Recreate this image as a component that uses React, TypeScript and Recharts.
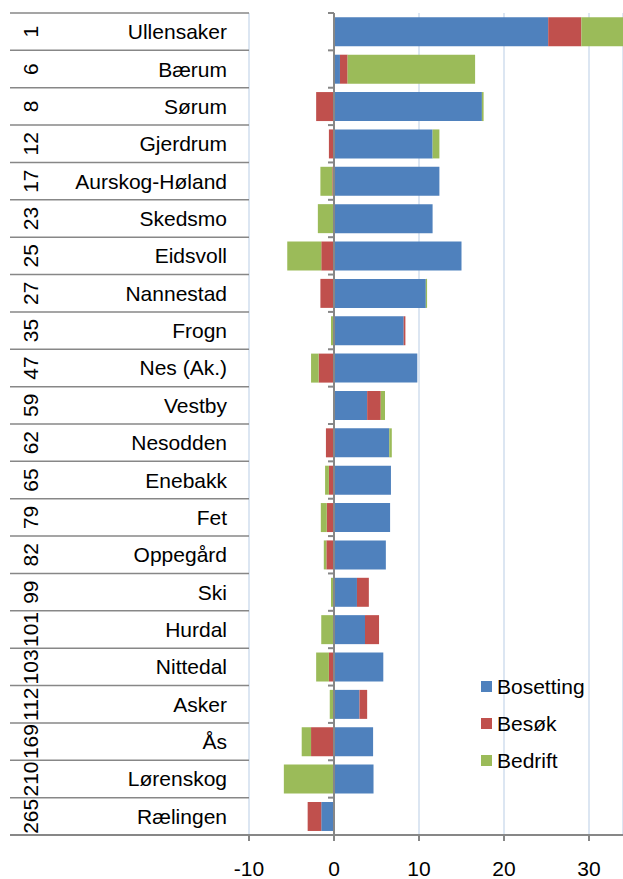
import React from 'react';
import {
  BarChart,
  Bar,
  XAxis,
  YAxis,
  CartesianGrid,
  ReferenceLine
} from 'recharts';

const ranks = ['1', '6', '8', '12', '17', '23', '25', '27', '35', '47', '59', '62', '65', '79', '82', '99', '101', '103', '112', '169', '210', '265'];
const names = ['Ullensaker', 'Bærum', 'Sørum', 'Gjerdrum', 'Aurskog-Høland', 'Skedsmo', 'Eidsvoll', 'Nannestad', 'Frogn', 'Nes (Ak.)', 'Vestby', 'Nesodden', 'Enebakk', 'Fet', 'Oppegård', 'Ski', 'Hurdal', 'Nittedal', 'Asker', 'Ås', 'Lørenskog', 'Rælingen'];
const bosetting = [25.2, 0.7, 17.4, 11.6, 12.4, 11.6, 15.0, 10.8, 8.2, 9.8, 3.9, 6.5, 6.7, 6.6, 6.1, 2.7, 3.65, 5.8, 3.0, 4.6, 4.65, -1.5];
const besok = [3.9, 0.9, -2.1, -0.6, -0.2, 0, -1.5, -1.6, 0.2, -1.8, 1.6, -0.95, -0.6, -0.85, -0.9, 1.4, 1.65, -0.6, 0.9, -2.7, 0, -1.6];
const bedrift = [4.9, 15.0, 0.2, 0.8, -1.4, -1.9, -4.0, 0.15, -0.35, -0.9, 0.5, 0.3, -0.45, -0.7, -0.3, -0.35, -1.5, -1.5, -0.5, -1.1, -5.9, 0];
const xTicks = [-10, 0, 10, 20, 30];

const series = [
  { key: 'bos', name: 'Bosetting', color: '#4F81BD' },
  { key: 'bes', name: 'Besøk', color: '#C0504D' },
  { key: 'bed', name: 'Bedrift', color: '#9BBB59' }
];

const data = names.map((name, i) => ({
  name,
  rank: ranks[i],
  bos: bosetting[i],
  bes: besok[i],
  bed: bedrift[i]
}));

const W = 623;
const H = 879;
const TOP = 13;
const BOTTOM = 44;
const YW = 249;
const rowH = (H - TOP - BOTTOM) / names.length;
const FONT = '"Liberation Sans", Arial, sans-serif';
const LINE = '#878787';

const CategoryTick = (props: any) => {
  const { y, payload, index } = props;
  const row = data[index] || data.find((d) => d.name === payload.value);
  return (
    <g>
      <line x1={10} x2={YW} y1={y - rowH / 2} y2={y - rowH / 2} stroke={LINE} strokeWidth={1.5} />
      {index === names.length - 1 && (
        <line x1={10} x2={YW} y1={y + rowH / 2} y2={y + rowH / 2} stroke={LINE} strokeWidth={2} />
      )}
      <text
        x={38}
        y={y}
        transform={`rotate(-90, 38, ${y})`}
        textAnchor="middle"
        fontSize={21}
        fontFamily={FONT}
        fill="#000"
      >
        {row ? row.rank : ''}
      </text>
      <text x={227} y={y + 7.5} textAnchor="end" fontSize={21} fontFamily={FONT} fill="#000">
        {payload.value}
      </text>
    </g>
  );
};

const ValueTick = (props: any) => {
  const { x, payload } = props;
  return (
    <text x={x} y={876} textAnchor="middle" fontSize={21} fontFamily={FONT} fill="#000">
      {payload.value}
    </text>
  );
};

const ZeroAxis = (props: any) => {
  const { x1, y1, x2, y2 } = props;
  const n = names.length;
  const marks = [];
  for (let k = 0; k <= n; k++) {
    const yy = y1 + (k * (y2 - y1)) / n;
    marks.push(<line key={k} x1={x1 - 6} x2={x1} y1={yy} y2={yy} stroke={LINE} strokeWidth={2} />);
  }
  return (
    <g>
      <line x1={x1} x2={x2} y1={y1} y2={y2} stroke={LINE} strokeWidth={2} />
      {marks}
    </g>
  );
};

export default function App() {
  return (
    <div style={{ position: 'absolute', left: 0, top: 0, width: W, height: H, background: '#fff' }}>
      <BarChart
        width={W}
        height={H}
        data={data}
        layout="vertical"
        stackOffset="sign"
        barCategoryGap="11.6%"
        margin={{ top: TOP, right: 0, bottom: 0, left: 0 }}
      >
        <CartesianGrid horizontal={false} stroke="#DCE6F2" strokeWidth={2} />
        <XAxis
          type="number"
          domain={[-10, 34]}
          ticks={xTicks}
          allowDataOverflow
          height={BOTTOM}
          axisLine={{ stroke: LINE, strokeWidth: 2 }}
          tickLine={{ stroke: LINE, strokeWidth: 2 }}
          tickSize={6}
          tick={<ValueTick />}
          interval={0}
        />
        <YAxis
          type="category"
          dataKey="name"
          width={YW}
          axisLine={false}
          tickLine={false}
          interval={0}
          tick={<CategoryTick />}
        />
        {series.map((s) => (
          <Bar key={s.key} dataKey={s.key} name={s.name} stackId="a" fill={s.color} isAnimationActive={false} />
        ))}
        <ReferenceLine x={0} shape={<ZeroAxis />} />
      </BarChart>
      <div style={{ position: 'absolute', left: 481, top: 668, fontFamily: FONT, fontSize: 21, color: '#000' }}>
        {series.map((s) => (
          <div key={s.key} style={{ display: 'flex', alignItems: 'center', height: 37 }}>
            <span style={{ display: 'inline-block', width: 11, height: 11, background: s.color, marginRight: 5 }} />
            <span>{s.name}</span>
          </div>
        ))}
      </div>
    </div>
  );
}
